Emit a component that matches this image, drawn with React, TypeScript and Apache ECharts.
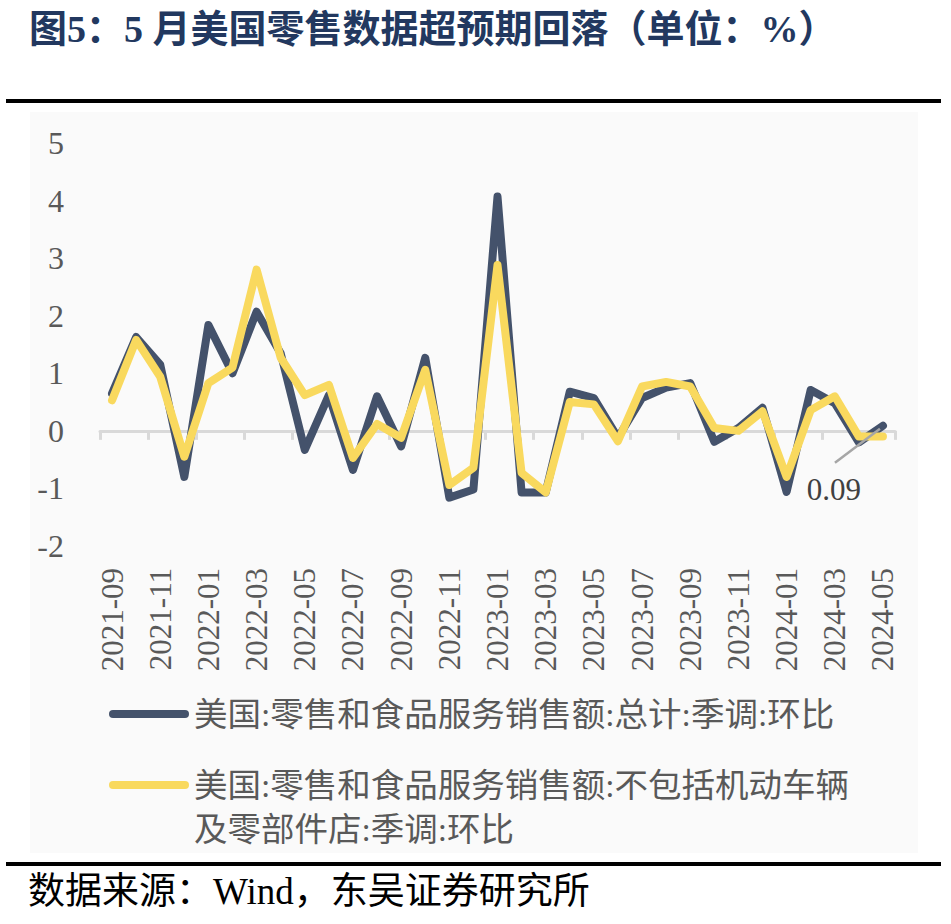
import React, { useEffect, useRef } from "react";
import * as echarts from "echarts";

const months: string[] = [
  "2021-09", "2021-10", "2021-11", "2021-12",
  "2022-01", "2022-02", "2022-03", "2022-04", "2022-05", "2022-06",
  "2022-07", "2022-08", "2022-09", "2022-10", "2022-11", "2022-12",
  "2023-01", "2023-02", "2023-03", "2023-04", "2023-05", "2023-06",
  "2023-07", "2023-08", "2023-09", "2023-10", "2023-11", "2023-12",
  "2024-01", "2024-02", "2024-03", "2024-04", "2024-05",
];

const totalSA: number[] = [
  0.65, 1.63, 1.15, -0.8,
  1.84, 1.0, 2.07, 1.35, -0.33, 0.62,
  -0.68, 0.6, -0.27, 1.27, -1.16, -1.02,
  4.07, -1.07, -1.07, 0.68, 0.57, -0.12,
  0.57, 0.75, 0.83, -0.19, 0.05, 0.4,
  -1.06, 0.71, 0.48, -0.2, 0.09,
];

const exAutoSA: number[] = [
  0.53, 1.58, 0.94, -0.45,
  0.83, 1.1, 2.8, 1.27, 0.62, 0.8,
  -0.47, 0.12, -0.12, 1.06, -0.94, -0.64,
  2.88, -0.73, -1.07, 0.5, 0.46, -0.18,
  0.77, 0.85, 0.77, 0.05, 0.0, 0.34,
  -0.8, 0.36, 0.6, -0.1, -0.1,
];

const yTicks = { min: -2, max: 5, interval: 1 };

const nameTotal = "美国:零售和食品服务销售额:总计:季调:环比";
const nameEx = "美国:零售和食品服务销售额:不包括机动车辆及零部件店:季调:环比";
const exBreakAfter = "美国:零售和食品服务销售额:不包括机动车辆";

const titleText = "图5：5 月美国零售数据超预期回落（单位：%）";
const sourceText = "数据来源：Wind，东吴证券研究所";

const DARK = "#44526b";
const YELLOW = "#f9d95e";
const SERIF = '"Liberation Serif", "Noto Sans CJK SC", serif';
const ICON = "path://M4 0H76A4 4 0 0 1 76 8H4A4 4 0 0 1 4 0Z";

export default function App() {
  const ref = useRef<HTMLDivElement>(null);

  useEffect(() => {
    if (!ref.current) return;
    const chart = echarts.init(ref.current, undefined, { renderer: "svg" });
    const lastIdx = totalSA.length - 1;
    const totalData = totalSA.map((v, i) =>
      i === lastIdx
        ? {
            value: v,
            label: {
              show: true,
              position: "inside",
              formatter: (p: any) => String(p.value),
              fontSize: 31,
              color: "#404040",
              fontFamily: SERIF,
            },
          }
        : v
    );

    chart.setOption({
      animation: false,
      backgroundColor: "#ffffff",
      title: {
        text: titleText,
        left: 29,
        top: 10,
        padding: 0,
        textStyle: {
          fontSize: 38,
          fontWeight: "bold",
          color: "#22385f",
          fontFamily: SERIF,
        },
      },
      graphic: [
        {
          id: "panel",
          type: "rect",
          z: -10,
          shape: { x: 30, y: 112, width: 888, height: 741 },
          style: { fill: "#fafafa" },
        },
        {
          id: "ruleTop",
          type: "rect",
          shape: { x: 6, y: 99, width: 935, height: 4 },
          style: { fill: "#000000" },
        },
        {
          id: "ruleBottom",
          type: "rect",
          shape: { x: 6, y: 862, width: 935, height: 4 },
          style: { fill: "#000000" },
        },
        {
          id: "source",
          type: "text",
          left: 28,
          top: 873,
          style: {
            text: sourceText,
            fontSize: 37,
            fill: "#000000",
            fontFamily: SERIF,
          },
        },
      ],
      legend: [
        {
          data: [nameTotal],
          orient: "vertical",
          left: 109,
          top: 695,
          padding: 0,
          itemWidth: 80,
          itemHeight: 8,
          icon: ICON,
          itemStyle: { borderWidth: 0 },
          textStyle: {
            fontSize: 33.5,
            lineHeight: 38,
            color: "#595959",
            fontFamily: SERIF,
          },
        },
        {
          data: [nameEx],
          orient: "vertical",
          left: 109,
          top: 719,
          padding: 0,
          itemWidth: 80,
          itemHeight: 8,
          icon: ICON,
          itemStyle: { borderWidth: 0 },
          formatter: (n: string) =>
            n.startsWith(exBreakAfter)
              ? "\n" + exBreakAfter + "\n" + n.slice(exBreakAfter.length)
              : n,
          textStyle: {
            fontSize: 33.5,
            lineHeight: 44,
            color: "#595959",
            fontFamily: SERIF,
          },
        },
      ],
      grid: { left: 100, right: 56, top: 143, bottom: 378, containLabel: false },
      xAxis: [
        {
          type: "category",
          data: months,
          boundaryGap: true,
          axisLine: { onZero: true, lineStyle: { color: "#d9d9d9", width: 3 } },
          axisTick: { show: true, interval: 1, length: 9, lineStyle: { color: "#d9d9d9", width: 3 } },
          axisLabel: { show: false },
          splitLine: { show: false },
        },
        {
          type: "category",
          data: months,
          position: "bottom",
          boundaryGap: true,
          axisLine: { show: false, onZero: false },
          axisTick: { show: false },
          axisLabel: {
            show: true,
            interval: 1,
            rotate: 90,
            margin: 22,
            fontSize: 31,
            color: "#595959",
            fontFamily: SERIF,
          },
          splitLine: { show: false },
        },
      ],
      yAxis: {
        type: "value",
        min: yTicks.min,
        max: yTicks.max,
        interval: yTicks.interval,
        axisLine: { show: false },
        axisTick: { show: false },
        splitLine: { show: false },
        axisLabel: {
          fontSize: 32,
          color: "#595959",
          margin: 36,
          fontFamily: SERIF,
        },
      },
      series: [
        {
          name: nameTotal,
          type: "line",
          xAxisIndex: 0,
          data: totalData,
          showSymbol: true,
          symbol: "circle",
          symbolSize: 0.01,
          color: DARK,
          itemStyle: { color: DARK, borderWidth: 0 },
          lineStyle: { color: DARK, width: 8, cap: "round", join: "round" },
          labelLayout: { dx: -49, dy: 64 },
          z: 2,
        },
        {
          name: nameEx,
          type: "line",
          xAxisIndex: 0,
          data: exAutoSA,
          showSymbol: false,
          symbol: "none",
          color: YELLOW,
          lineStyle: { color: YELLOW, width: 8, cap: "round", join: "round" },
          z: 3,
        },
      ],
    });

    // leader line from the "0.09" label towards the last point
    const p = chart.convertToPixel({ xAxisIndex: 0, yAxisIndex: 0 }, [
      months[lastIdx],
      totalSA[lastIdx],
    ]) as number[];
    if (p && isFinite(p[0]) && isFinite(p[1])) {
      chart.setOption({
        graphic: [
          {
            id: "leader",
            type: "line",
            z: 10,
            shape: { x1: p[0] - 48, y1: p[1] + 37, x2: p[0] - 3, y2: p[1] + 3 },
            style: { stroke: "#a6a6a6", lineWidth: 2.5 },
          },
        ],
      });
    }
    return () => chart.dispose();
  }, []);

  return (
    <div
      ref={ref}
      style={{ position: "fixed", left: 0, top: 0, width: 951, height: 924 }}
    />
  );
}
